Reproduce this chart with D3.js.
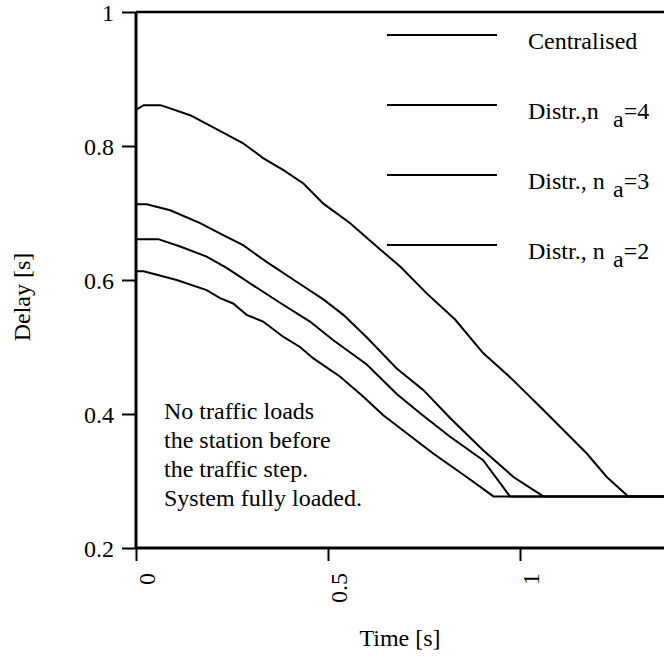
<!DOCTYPE html>
<html>
  <head>
    <meta charset="utf-8">
    <title>Delay after traffic step</title>
    <script src="https://cdn.jsdelivr.net/npm/d3@7"></script>
    <style>
      body { margin: 0; background: #fff; }
      svg { display: block; font-family: "Liberation Serif", "Times New Roman", serif; }
      text { fill: #000; }
    </style>
  </head>

  <body>
    <svg id="chart" width="664" height="657"></svg>

    <script>
      // data: time [s] and delay [s] per series
      seriesNames = ["Centralised", "Distr.,n", "Distr., n", "Distr., n"];
      seriesSubs = ["", "4", "3", "2"];
      timeCentral = [0, 0.02, 0.064, 0.141, 0.227, 0.279, 0.331, 0.384, 0.436, 0.488, 0.557, 0.627, 0.688, 0.757, 0.831, 0.904, 0.974, 1.061, 1.174, 1.226, 1.282, 1.375];
      delayCentral = [0.854, 0.861, 0.861, 0.846, 0.820, 0.804, 0.782, 0.764, 0.744, 0.714, 0.685, 0.650, 0.620, 0.580, 0.541, 0.491, 0.455, 0.406, 0.341, 0.306, 0.277, 0.277];
      timeNa4 = [0, 0.028, 0.089, 0.167, 0.227, 0.279, 0.340, 0.427, 0.488, 0.540, 0.600, 0.679, 0.748, 0.818, 0.904, 0.983, 1.061, 1.375];
      delayNa4 = [0.713, 0.713, 0.704, 0.685, 0.667, 0.652, 0.627, 0.594, 0.571, 0.548, 0.515, 0.468, 0.436, 0.394, 0.346, 0.306, 0.277, 0.277];
      timeNa3 = [0, 0.058, 0.115, 0.184, 0.236, 0.297, 0.375, 0.453, 0.514, 0.601, 0.679, 0.740, 0.818, 0.904, 0.974, 1.375];
      delayNa3 = [0.661, 0.661, 0.650, 0.635, 0.618, 0.595, 0.566, 0.538, 0.510, 0.474, 0.430, 0.401, 0.366, 0.331, 0.277, 0.277];
      timeNa2 = [0, 0.02, 0.106, 0.184, 0.219, 0.253, 0.288, 0.331, 0.384, 0.427, 0.462, 0.531, 0.590, 0.644, 0.774, 0.861, 0.931, 1.375];
      delayNa2 = [0.613, 0.613, 0.600, 0.585, 0.573, 0.565, 0.548, 0.538, 0.515, 0.500, 0.483, 0.456, 0.427, 0.398, 0.341, 0.306, 0.277, 0.277];
      xTicks = [0, 0.5, 1];
      yTicks = [0.2, 0.4, 0.6, 0.8, 1];
      noteLines = ["No traffic loads", "the station before", "the traffic step.", "System fully loaded."];

      allSeries = [
        d3.zip(timeCentral, delayCentral),
        d3.zip(timeNa4, delayNa4),
        d3.zip(timeNa3, delayNa3),
        d3.zip(timeNa2, delayNa2)
      ];

      svg = d3.select("#chart");
      plotLeft = 136;
      plotRight = 664;
      plotTop = 12;
      plotBottom = 548;

      x = d3.scaleLinear()
        .domain([0, 1.375])
        .range([plotLeft, plotRight]);
      y = d3.scaleLinear()
        .domain([0.2, 1])
        .range([plotBottom, plotTop]);

      // frame: top line, left axis, bottom axis
      svg.append("line")
        .attr("x1", plotLeft).attr("x2", plotRight)
        .attr("y1", plotTop).attr("y2", plotTop)
        .attr("stroke", "#000").attr("stroke-width", 2.3);

      yAxis = svg.append("g")
        .attr("transform", "translate(" + plotLeft + ",0)")
        .call(d3.axisLeft(y).tickValues(yTicks).tickSize(14).tickPadding(8).tickFormat(d3.format("")));
      yAxis.select(".domain").attr("d", "M0," + plotTop + "V" + plotBottom).attr("stroke-width", 3);
      yAxis.selectAll(".tick line").attr("stroke-width", 2);
      yAxis.selectAll("text")
        .style("font-family", "Liberation Serif")
        .style("font-size", "24px")
        .attr("dy", "0.35em");

      xAxis = svg.append("g")
        .attr("transform", "translate(0," + plotBottom + ")")
        .call(d3.axisBottom(x).tickValues(xTicks).tickSize(13).tickFormat(d3.format("")));
      xAxis.select(".domain").attr("d", "M" + plotLeft + ",0H" + plotRight).attr("stroke-width", 3);
      xAxis.selectAll(".tick line").attr("stroke-width", 2);
      xAxis.selectAll("text")
        .style("font-family", "Liberation Serif")
        .style("font-size", "24px")
        .attr("text-anchor", "end")
        .attr("dy", null)
        .attr("y", null)
        .attr("transform", "translate(18,25) rotate(-90)");

      // curves
      line = d3.line()
        .x(function(d) { return x(d[0]); })
        .y(function(d) { return y(d[1]); });
      svg.selectAll(".curve")
        .data(allSeries)
        .join("path")
          .attr("class", "curve")
          .attr("d", line)
          .attr("fill", "none")
          .attr("stroke", "#000")
          .attr("stroke-width", 2);

      // legend
      legend = svg.append("g");
      seriesNames.forEach(function(name, i) {
        let ly = 35 + i * 70;
        legend.append("line")
          .attr("x1", 387).attr("x2", 497)
          .attr("y1", ly).attr("y2", ly)
          .attr("stroke", "#000").attr("stroke-width", 2);
        let t = legend.append("text")
          .attr("x", 528)
          .attr("y", ly + 14)
          .style("font-size", "24px")
          .text(name);
        if (seriesSubs[i]) {
          t.append("tspan").attr("x", 613).attr("dy", 8).text("a");
          t.append("tspan").attr("dy", -8).text("=" + seriesSubs[i]);
        }
      });

      // note
      note = svg.append("text")
        .style("font-size", "24px");
      noteLines.forEach(function(s, i) {
        note.append("tspan")
          .attr("x", 164)
          .attr("y", 419 + i * 29)
          .text(s);
      });

      // axis titles
      svg.append("text")
        .attr("x", 400).attr("y", 646)
        .attr("text-anchor", "middle")
        .style("font-size", "24px")
        .text("Time [s]");
      svg.append("text")
        .attr("transform", "translate(30,297) rotate(-90)")
        .attr("text-anchor", "middle")
        .style("font-size", "24px")
        .text("Delay [s]");
    </script>
  </body>
</html>
